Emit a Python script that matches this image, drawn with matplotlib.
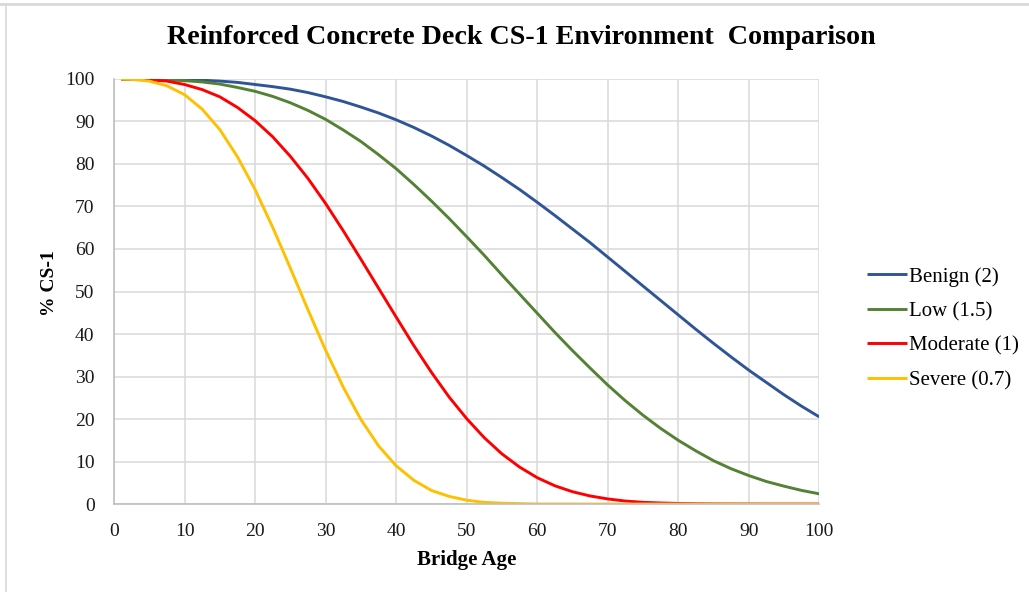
import matplotlib.pyplot as plt
from matplotlib.lines import Line2D
import numpy as np

# bridge age (years)
ages = np.concatenate([[1], np.arange(2.5, 100.1, 2.5)])

# % of deck in CS-1
benign = [100, 100, 100, 99.9, 99.8, 99.7, 99.5, 99.2, 98.7, 98.2, 97.6, 96.8, 95.8, 94.7,
          93.4, 92.0, 90.4, 88.6, 86.6, 84.4, 82.0, 79.5, 76.8, 74.0, 71.0, 67.9, 64.7,
          61.5, 58.1, 54.7, 51.3, 47.9, 44.5, 41.1, 37.8, 34.6, 31.5, 28.6, 25.7, 23.0, 20.5]
low = [100, 100, 100, 99.8, 99.6, 99.3, 98.8, 98.0, 97.1, 95.9, 94.4, 92.6, 90.5, 88.0,
       85.3, 82.2, 78.9, 75.2, 71.3, 67.2, 62.9, 58.5, 53.9, 49.4, 44.9, 40.4, 36.1,
       32.0, 28.0, 24.3, 20.9, 17.8, 15.0, 12.5, 10.2, 8.3, 6.7, 5.3, 4.2, 3.2, 2.4]
moderate = [100, 100, 99.8, 99.5, 98.7, 97.5, 95.8, 93.3, 90.2, 86.4, 81.8, 76.6, 70.7, 64.3,
            57.6, 50.8, 44.0, 37.3, 31.0, 25.2, 20.1, 15.6, 11.8, 8.7, 6.2, 4.3, 2.9,
            1.9, 1.2, 0.7, 0.4, 0.25, 0.14, 0.08, 0.04, 0.02, 0.01, 0, 0, 0, 0]
severe = [100, 99.9, 99.5, 98.4, 96.3, 92.9, 88.1, 81.7, 74.0, 65.1, 55.5, 45.7, 36.2, 27.5,
          19.9, 13.7, 9.0, 5.6, 3.2, 1.8, 0.9, 0.4, 0.2, 0.1, 0, 0, 0,
          0, 0, 0, 0, 0, 0, 0, 0, 0, 0, 0, 0, 0, 0]

series = [("Benign (2)", benign, "#2F5597"),
          ("Low (1.5)", low, "#548235"),
          ("Moderate (1)", moderate, "#FF0000"),
          ("Severe (0.7)", severe, "#FFC000")]

plt.rcParams['font.family'] = ['Liberation Serif', 'DejaVu Serif']

fig = plt.figure(figsize=(10.29, 5.92), dpi=100)
ax = fig.add_axes([0.1108, 0.1486, 0.6854, 0.718])

for name, vals, col in series:
    ax.plot(ages, vals, color=col, lw=2.1, label=name, solid_capstyle='butt',
            solid_joinstyle='round')

ax.set_xlim(0, 100)
ax.set_ylim(0, 100)
ax.set_xticks(np.arange(0, 101, 10))
ax.set_yticks(np.arange(0, 101, 10))
ax.grid(True, color='#D9D9D9', lw=1.1)
ax.set_axisbelow(True)
for s in ['top', 'right']:
    ax.spines[s].set_visible(False)
for s in ['left', 'bottom']:
    ax.spines[s].set_color('#BFBFBF')
    ax.spines[s].set_linewidth(1.2)
ax.tick_params(length=0, labelsize=14, colors='#1a1a1a')
ax.tick_params(axis='x', pad=14)
ax.tick_params(axis='y', pad=14)

ax.set_xlabel("Bridge Age", fontsize=15, fontweight='bold')
ax.xaxis.set_label_coords(0.5, -0.109)
ax.set_ylabel("% CS-1", fontsize=14, fontweight='bold')
ax.yaxis.set_label_coords(-0.080, 0.52)

fig.text(0.5068, 0.9375, "Reinforced Concrete Deck CS-1 Environment  Comparison",
         ha='center', va='center', fontsize=20.2, fontweight='bold')

ax.legend(loc='center left', bbox_to_anchor=(0.8426, 0.445), bbox_transform=fig.transFigure,
          frameon=False, fontsize=15, handlelength=1.92, handletextpad=0.1,
          labelspacing=0.72, borderaxespad=0, borderpad=0)

# chart-area border (top and left edges visible in the reference)
fig.add_artist(Line2D([0, 1], [1 - 4 / 592, 1 - 4 / 592], transform=fig.transFigure,
                      color='#D9D9D9', lw=2))
fig.add_artist(Line2D([6 / 1029, 6 / 1029], [0, 1 - 4 / 592], transform=fig.transFigure,
                      color='#D9D9D9', lw=1.2))

plt.savefig("out.png", dpi=100)
